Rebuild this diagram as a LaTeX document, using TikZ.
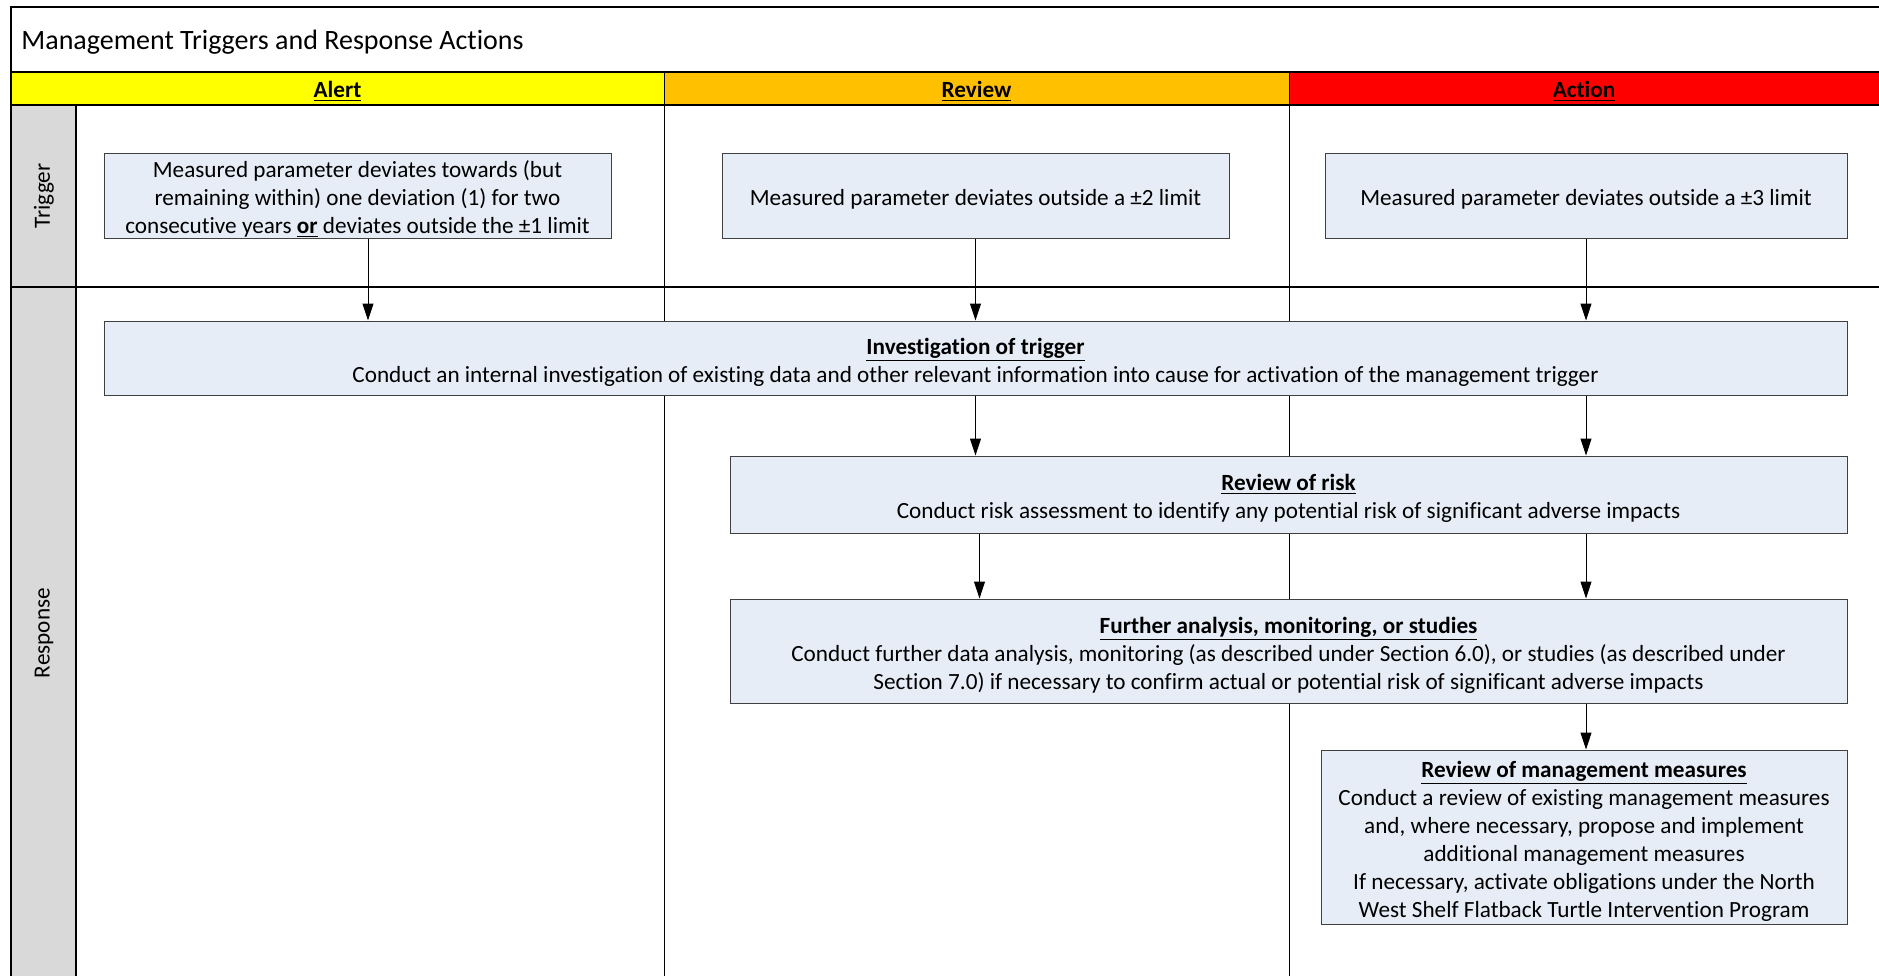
\documentclass[tikz,border=0pt]{standalone}
\usepackage{fontspec}
\setmainfont{Carlito}[Ligatures=NoCommon]
\usetikzlibrary{arrows.meta}
\usetikzlibrary{positioning}

\definecolor{alertyellow}{HTML}{FFFF00}
\definecolor{revieworange}{HTML}{FFC000}
\definecolor{actionred}{HTML}{FF0000}
\definecolor{lanegray}{HTML}{D9D9D9}
\definecolor{boxblue}{HTML}{E7EDF7}
\newcommand{\tstrut}{\rule{0pt}{12pt}}

\begin{document}
\begin{tikzpicture}[x=0.5pt,y=-0.5pt,
  every node/.style={inner sep=0pt,font=\fontsize{11.6}{14}\selectfont},
  stepbox/.style={draw=black!75,fill=boxblue,align=center,line width=0.5pt},
  arr/.style={-{Triangle[length=8.5pt,width=5.5pt]},line width=0.5pt},
  gridline/.style={line width=1pt},
  colline/.style={line width=0.5pt}]
\useasboundingbox (0,0) rectangle (1879,975);
\clip (0,0) rectangle (1879,975);
% header bands and lane labels
\fill[alertyellow] (11,72) rectangle (664,105);
\fill[revieworange] (664,72) rectangle (1289,105);
\fill[actionred] (1289,72) rectangle (1890,105);
\fill[lanegray] (11,105) rectangle (76,990);
\node[anchor=west,font=\fontsize{14}{17}\selectfont] (title) at (21,42.5) {Management Triggers and Response Actions};
\node (alerthd) at (337.5,91) {\bfseries\underline{Alert}};
\node (reviewhd) at (976.5,91) {\bfseries\underline{Review}};
\node (actionhd) at (1584,91) {\bfseries\underline{Action}};
\node[rotate=90] (triglane) at (44,196) {Trigger};
\node[rotate=90] (resplane) at (44,633) {Response};
% table lines
\draw[colline] (664,72) -- (664,990);
\draw[colline] (1289,72) -- (1289,990);
\draw[gridline] (11,990) -- (11,7) -- (1890,7);
\draw[gridline] (11,72) -- (1890,72);
\draw[gridline] (11,105) -- (1890,105);
\draw[gridline] (11,287) -- (1890,287);
\draw[gridline] (76,105) -- (76,990);
% trigger boxes
\node[stepbox,minimum width=253.5pt,minimum height=42.5pt] (alertT) at (357.5,195.5)
  {\tstrut Measured parameter deviates towards (but\\remaining within) one deviation (1) for two\\consecutive years \textbf{\underline{or}} deviates outside the ±1 limit};
\node[stepbox,minimum width=253.5pt,minimum height=42.5pt] (reviewT) at (975.5,195.5)
  {\tstrut Measured parameter deviates outside a ±2 limit};
\node[stepbox,minimum width=261pt,minimum height=42.5pt] (actionT) at (1586,195.5)
  {\tstrut Measured parameter deviates outside a ±3 limit};
% response boxes
\node[stepbox,minimum width=871.5pt,minimum height=37pt] (invest) at (975.5,358)
  {\tstrut\textbf{\underline{Investigation of trigger}}\\Conduct an internal investigation of existing data and other relevant information into cause for activation of the management trigger};
\node[stepbox,minimum width=558.5pt,minimum height=38.5pt] (risk) at (1288.5,494.5)
  {\tstrut\textbf{\underline{Review of risk}}\\Conduct risk assessment to identify any potential risk of significant adverse impacts};
\node[stepbox,minimum width=558.5pt,minimum height=52pt] (further) at (1288.5,651)
  {\tstrut\textbf{\underline{Further analysis, monitoring, or studies}}\\Conduct further data analysis, monitoring (as described under Section 6.0), or studies (as described under\\Section 7.0) if necessary to confirm actual or potential risk of significant adverse impacts};
\node[stepbox,minimum width=263pt,minimum height=87pt] (mgmt) at (1584,837)
  {\tstrut\textbf{\underline{Review of management measures}}\\Conduct a review of existing management measures\\and, where necessary, propose and implement\\additional management measures\\If necessary, activate obligations under the North\\West Shelf Flatback Turtle Intervention Program};
% arrows
\draw[arr] ([xshift=5.25pt]alertT.south) -- ([xshift=5.25pt]alertT.south |- invest.north);
\draw[arr] (reviewT.south) -- (reviewT.south |- invest.north);
\draw[arr] (actionT.south) -- (actionT.south |- invest.north);
\draw[arr] (reviewT.south |- invest.south) -- (reviewT.south |- risk.north);
\draw[arr] (actionT.south |- invest.south) -- (actionT.south |- risk.north);
\draw[arr] ([xshift=2pt]reviewT.south |- risk.south) -- ([xshift=2pt]reviewT.south |- further.north);
\draw[arr] (actionT.south |- risk.south) -- (actionT.south |- further.north);
\draw[arr] (actionT.south |- further.south) -- (actionT.south |- mgmt.north);
\end{tikzpicture}
\end{document}
